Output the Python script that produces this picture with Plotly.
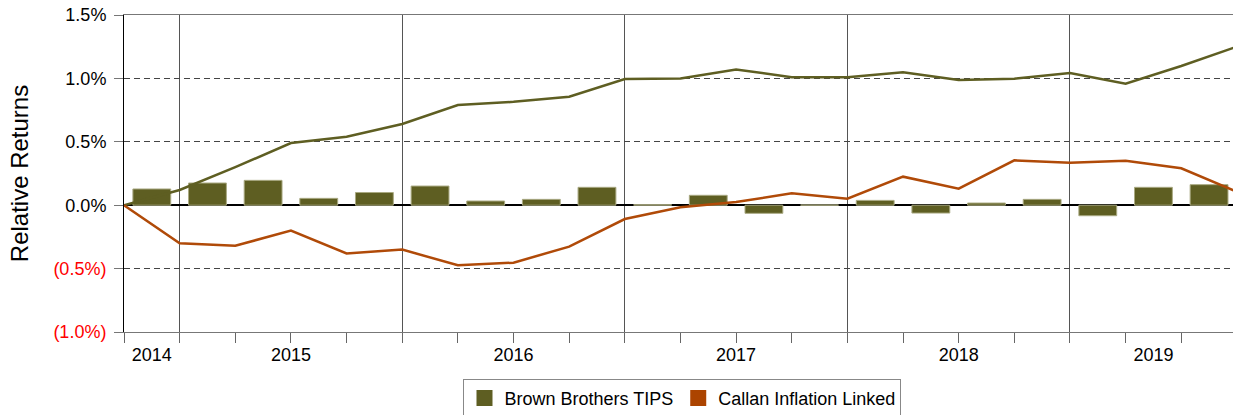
import plotly.graph_objects as go

# quarter ends shown on the chart (first point is the common start)
quarter_ends = ["2014Q3", "2014Q4",
                "2015Q1", "2015Q2", "2015Q3", "2015Q4",
                "2016Q1", "2016Q2", "2016Q3", "2016Q4",
                "2017Q1", "2017Q2", "2017Q3", "2017Q4",
                "2018Q1", "2018Q2", "2018Q3", "2018Q4",
                "2019Q1", "2019Q2", "2019Q3"]

# cumulative relative returns (%)
brown_cum = [0.0, 0.12, 0.30, 0.49, 0.54, 0.64, 0.79, 0.815, 0.855, 0.995, 1.00,
             1.07, 1.01, 1.01, 1.048, 0.987, 0.998, 1.043, 0.958, 1.098, 1.25]
callan_cum = [0.0, -0.30, -0.32, -0.20, -0.38, -0.35, -0.474, -0.453, -0.327, -0.109, -0.017,
              0.025, 0.094, 0.051, 0.225, 0.13, 0.354, 0.335, 0.351, 0.291, 0.106]

# quarterly relative returns (%)
brown_qtr = [0.128, 0.175, 0.196, 0.054, 0.10, 0.151, 0.033, 0.046, 0.141, 0.004,
             0.078, -0.064, 0.002, 0.038, -0.062, 0.017, 0.046, -0.083, 0.141, 0.162]

y_ticks = [-1.0, -0.5, 0.0, 0.5, 1.0, 1.5]
y_ticktext = ["<span style='color:#ff0000'>(1.0%)</span>",
              "<span style='color:#ff0000'>(0.5%)</span>",
              "0.0%", "0.5%", "1.0%", "1.5%"]

GREEN = '#5e5e22'
ORANGE = '#b04a08'
FONT = 'Arial, Liberation Sans, sans-serif'

line_x = list(range(len(quarter_ends)))
bar_x = [i + 0.5 for i in range(len(brown_qtr))]
bar_years = [q[:4] for q in quarter_ends[1:]]

# year label at the middle of each year's bars, vertical line where the year changes
years = sorted(set(bar_years))
year_centers = [sum(x for x, y in zip(bar_x, bar_years) if y == yr) / bar_years.count(yr)
                for yr in years]
year_breaks = [i for i in range(1, len(bar_years)) if bar_years[i] != bar_years[i - 1]]

fig = go.Figure()

fig.add_trace(go.Bar(
    x=bar_x, y=brown_qtr, width=0.68,
    marker=dict(color=GREEN, line=dict(color='#a9a982', width=1)),
    showlegend=False))

fig.add_trace(go.Scatter(
    x=line_x, y=brown_cum, mode='lines',
    line=dict(color=GREEN, width=2.5), showlegend=False))

fig.add_trace(go.Scatter(
    x=line_x, y=callan_cum, mode='lines',
    line=dict(color=ORANGE, width=2.5), showlegend=False))

# square swatches for the legend
for name, col in [("Brown Brothers TIPS", GREEN), ("Callan Inflation Linked", '#ac4400')]:
    fig.add_trace(go.Scatter(
        x=[None], y=[None], mode='markers', name=name,
        marker=dict(symbol='square', size=20, color=col)))

# the last quarter runs a little past the right edge, as in the original crop
x_range = [0, 19.93]

fig.update_layout(
    width=1233, height=415,
    margin=dict(l=124, r=0, t=15, b=83, autoexpand=False),
    plot_bgcolor='white', paper_bgcolor='white',
    barmode='overlay',
    font=dict(family=FONT, size=18, color='black'),
    legend=dict(orientation='h', x=0.5036, xanchor='center', y=-0.148, yanchor='top',
                bordercolor='#888', borderwidth=1, bgcolor='white',
                font=dict(size=18), itemsizing='trace'),
    xaxis=dict(range=x_range, tickmode='array', tickvals=year_breaks,
               showticklabels=False, ticks='outside', ticklen=10, tickcolor='#666',
               showgrid=True, gridcolor='#555', gridwidth=1,
               showline=True, linecolor='#777', linewidth=1, mirror=True,
               zeroline=False,
               minor=dict(tickmode='array', tickvals=line_x, ticks='outside',
                          ticklen=10, tickcolor='#666', showgrid=False)),
    xaxis2=dict(range=x_range, overlaying='x', anchor='y', side='bottom',
                tickmode='array', tickvals=year_centers, ticktext=years,
                ticks='outside', ticklen=6, tickcolor='rgba(0,0,0,0)',
                showgrid=False, showline=False, zeroline=False,
                tickfont=dict(size=18)),
    yaxis=dict(range=[-1.0, 1.5], tickmode='array', tickvals=y_ticks, ticktext=y_ticktext,
               ticks='outside', ticklen=9, tickcolor='#777', ticklabelstandoff=4,
               ticklabeloverflow='allow',
               showgrid=True, gridcolor='#444', gridwidth=1, griddash='6px,4px',
               zeroline=True, zerolinecolor='black', zerolinewidth=1.5,
               showline=True, linecolor='black', linewidth=1,
               tickfont=dict(size=18),
               title=dict(text='Relative Returns', font=dict(size=24), standoff=17)),
)

# dummy trace on xaxis2 so the overlay axis is drawn
fig.add_trace(go.Scatter(x=[None], y=[None], xaxis='x2', showlegend=False))

# drop the default page margin so the figure sits at the window corner
fig.write_html("out.html", config={'displayModeBar': False},
               post_script="document.body.style.margin='0';document.body.style.overflow='hidden';")
